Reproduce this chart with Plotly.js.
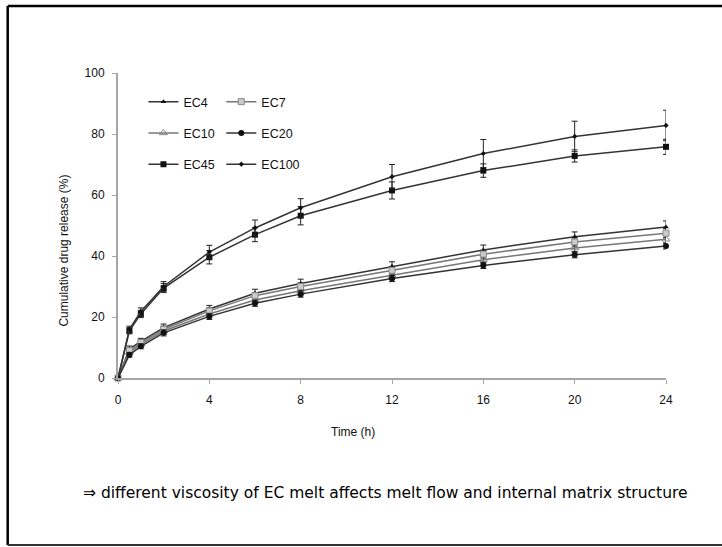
<!DOCTYPE html>
<html>
<head>
<meta charset="utf-8">
<script src="https://cdn.plot.ly/plotly-3.0.1.min.js"></script>
<style>
html,body{margin:0;padding:0;background:#fff;overflow:hidden;}
#chart{width:722px;height:547px;}
</style>
</head>
<body>
<div id="chart"></div>
<script>
// Time points (h)
var time = [0, 0.5, 1, 2, 4, 6, 8, 12, 16, 20, 24];

// Cumulative drug release (%) per formulation
var ec4   = [0, 9.5, 12.0, 16.5, 22.6, 27.8, 31.0, 36.6, 42.0, 46.3, 49.5];
var ec7   = [0, 9.0, 11.6, 16.0, 22.0, 27.0, 30.0, 35.3, 40.6, 44.6, 47.5];
var ec10  = [0, 8.4, 11.0, 15.4, 21.0, 25.6, 28.6, 33.6, 38.8, 42.6, 45.5];
var ec20  = [0, 7.6, 10.4, 14.8, 20.2, 24.5, 27.5, 32.6, 36.9, 40.4, 43.3];
var ec45  = [0, 15.5, 21.0, 29.5, 39.6, 47.0, 53.2, 61.5, 68.0, 72.8, 75.8];
var ec100 = [0, 16.0, 21.8, 30.0, 41.3, 49.2, 55.8, 66.0, 73.6, 79.2, 82.8];

// Standard deviations (%)
var ec4Sd   = [0, 1.0, 1.0, 1.2, 1.2, 1.3, 1.4, 1.5, 1.6, 1.6, 2.0];
var ec7Sd   = [0, 0.8, 0.8, 1.0, 1.0, 1.0, 1.2, 1.2, 1.2, 1.3, 1.5];
var ec10Sd  = [0, 0.8, 0.8, 1.0, 1.0, 1.0, 1.0, 1.2, 1.2, 1.3, 1.5];
var ec20Sd  = [0, 0.8, 0.8, 1.0, 1.0, 1.0, 1.0, 1.0, 1.0, 1.0, 1.0];
var ec45Sd  = [0, 1.0, 1.2, 1.5, 2.2, 2.3, 3.0, 2.8, 2.2, 2.0, 2.5];
var ec100Sd = [0, 1.0, 1.2, 1.6, 2.2, 2.6, 3.0, 4.0, 4.6, 5.0, 5.0];

var seriesNames = ["EC4", "EC7", "EC10", "EC20", "EC45", "EC100"];

function tr(name, y, sd, lineColor, marker, legendId) {
  return {
    type: "scatter", mode: "lines+markers", name: name, x: time, y: y,
    line: {color: lineColor, width: 1.5},
    marker: marker,
    error_y: {type: "data", array: sd, visible: true, color: "#222", thickness: 1, width: 3},
    cliponaxis: false,
    legend: legendId, legendgroup: name
  };
}

var data = [
  tr(seriesNames[0], ec4,   ec4Sd,   "#333", {symbol: "triangle-up", size: 5, color: "#111"}, "legend"),
  tr(seriesNames[2], ec10,  ec10Sd,  "#777", {symbol: "triangle-up-open", size: 7, color: "#888", line: {width: 1}}, "legend"),
  tr(seriesNames[4], ec45,  ec45Sd,  "#333", {symbol: "square", size: 6, color: "#111"}, "legend"),
  tr(seriesNames[1], ec7,   ec7Sd,   "#777", {symbol: "square", size: 6, color: "#ccc", line: {color: "#888", width: 1}}, "legend2"),
  tr(seriesNames[3], ec20,  ec20Sd,  "#333", {symbol: "circle", size: 6, color: "#111"}, "legend2"),
  tr(seriesNames[5], ec100, ec100Sd, "#333", {symbol: "diamond", size: 4, color: "#111"}, "legend2")
];

var L = 117.5, R = 666.5, T = 73, B = 378;
function px(xp) { return (xp - L) / (R - L); }
function py(yp) { return (B - yp) / (B - T); }

var legendBase = {
  bgcolor: "rgba(0,0,0,0)", borderwidth: 0,
  font: {family: "Liberation Sans, Arial, sans-serif", size: 12.5, color: "#111"},
  orientation: "v", tracegroupgap: 12,
  xanchor: "left", yanchor: "top", y: py(87)
};

var layout = {
  width: 722, height: 547,
  margin: {l: L, r: 722 - R, t: T, b: 547 - B},
  paper_bgcolor: "#fff", plot_bgcolor: "#fff",
  showlegend: true,
  legend: Object.assign({}, legendBase, {x: px(143)}),
  legend2: Object.assign({}, legendBase, {x: px(221)}),
  xaxis: {
    range: [0, 24], tickvals: [0, 4, 8, 12, 16, 20, 24],
    showgrid: false, zeroline: false,
    showline: true, linecolor: "#a6a6a6", linewidth: 2,
    ticks: "outside", ticklen: 4, tickcolor: "#a6a6a6", tickwidth: 1,
    ticklabelstandoff: 6,
    tickfont: {family: "Liberation Sans, Arial, sans-serif", size: 12, color: "#111"},
    fixedrange: true
  },
  yaxis: {
    range: [0, 100], tickvals: [0, 20, 40, 60, 80, 100],
    showgrid: false, zeroline: false,
    showline: true, linecolor: "#a6a6a6", linewidth: 2,
    ticks: "outside", ticklen: 4, tickcolor: "#a6a6a6", tickwidth: 1,
    ticklabelstandoff: 5,
    tickfont: {family: "Liberation Sans, Arial, sans-serif", size: 12, color: "#111"},
    fixedrange: true
  },
  annotations: [
    {text: "Time (h)", xref: "paper", yref: "paper", x: px(353), y: py(432),
     xanchor: "center", yanchor: "middle", showarrow: false,
     font: {family: "Liberation Sans, Arial, sans-serif", size: 12, color: "#111"}},
    {text: "Cumulative drug release (%)", xref: "paper", yref: "paper", x: px(63), y: py(251),
     xanchor: "center", yanchor: "middle", showarrow: false, textangle: -90,
     font: {family: "Liberation Sans, Arial, sans-serif", size: 12, color: "#111"}},
    {text: "\u21D2 different viscosity of EC melt affects melt flow and internal matrix structure",
     xref: "paper", yref: "paper", x: px(80), y: py(493),
     xanchor: "left", yanchor: "middle", showarrow: false,
     font: {family: "DejaVu Sans, Verdana, sans-serif", size: 15.5, color: "#000"}}
  ],
  shapes: [
    {type: "line", xref: "paper", yref: "paper", x0: px(7), x1: px(760), y0: py(6), y1: py(6), line: {color: "#000", width: 2.5}},
    {type: "line", xref: "paper", yref: "paper", x0: px(7), x1: px(7), y0: py(6), y1: py(545), line: {color: "#000", width: 2.5}},
    {type: "line", xref: "paper", yref: "paper", x0: px(7), x1: px(760), y0: py(545), y1: py(545), line: {color: "#333", width: 2}}
  ]
};

Plotly.newPlot("chart", data, layout, {displayModeBar: false, staticPlot: true});
</script>
</body>
</html>
